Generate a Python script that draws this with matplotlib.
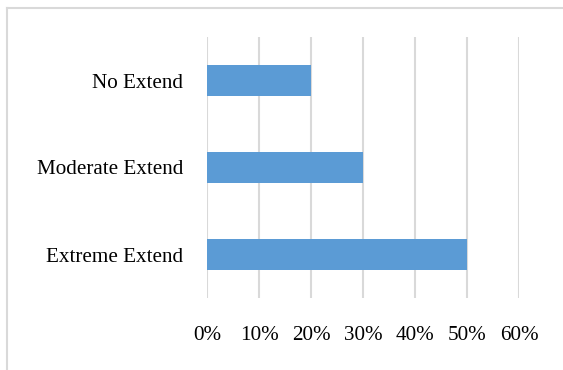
import matplotlib
matplotlib.use("Agg")
import matplotlib.pyplot as plt
from matplotlib.lines import Line2D
from matplotlib.ticker import FuncFormatter

categories = ["Extreme Extend", "Moderate Extend", "No Extend"]
shares = [50, 30, 20]
xticks = [0, 10, 20, 30, 40, 50, 60]

plt.rcParams["font.family"] = ["Liberation Serif", "DejaVu Serif"]

W, H = 563, 370
fig = plt.figure(figsize=(W / 100, H / 100), dpi=100)
ax = fig.add_axes([207 / W, 1 - 298 / H, (519 - 207) / W, (298 - 37) / H])

grid_c = "#d9d9d9"
ax.barh(range(len(categories)), shares, height=0.345, color="#5b9bd5", zorder=3)

ax.set_xlim(0, 60)
ax.set_ylim(-0.5, len(categories) - 0.5)
ax.set_xticks(xticks)
ax.xaxis.set_major_formatter(FuncFormatter(lambda v, p: f"{v:.0f}%"))
ax.set_yticks(range(len(categories)))
ax.set_yticklabels(categories)

ax.grid(axis="x", color=grid_c, linewidth=1.5, zorder=0)
ax.grid(axis="y", visible=False)
for s in ax.spines.values():
    s.set_visible(False)
ax.tick_params(axis="x", length=0, pad=20, labelsize=15.2, colors="black")
ax.tick_params(axis="y", length=0, pad=17, labelsize=15.2, colors="black")

# chart area border (top and left edges)
fig.add_artist(Line2D([7.5 / W, 1], [1 - 8 / H, 1 - 8 / H], transform=fig.transFigure,
                      color=grid_c, linewidth=1.5))
fig.add_artist(Line2D([7.5 / W, 7.5 / W], [0, 1 - 8 / H], transform=fig.transFigure,
                      color=grid_c, linewidth=1.5))

fig.savefig("out.png", dpi=100)
